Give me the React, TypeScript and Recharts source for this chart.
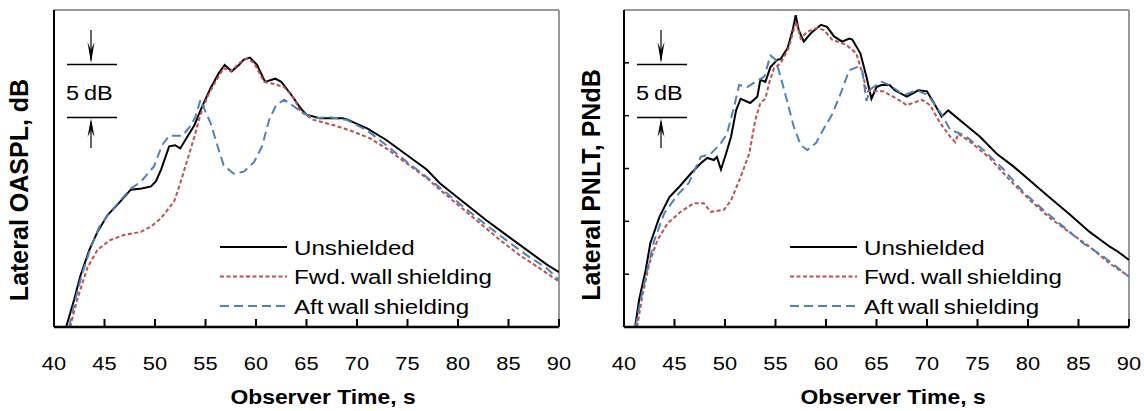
import { LineChart, Line, XAxis, YAxis, ReferenceLine, Customized } from 'recharts';

const FONT = '"Liberation Sans", Arial, sans-serif';

// observer time ticks, s
const timeTicks = [40, 45, 50, 55, 60, 65, 70, 75, 80, 85, 90];
// relative level ticks (5 dB apart, no labels in the original)
const levelTicks = [0, 5, 10, 15, 20, 25, 30];

const seriesNames = ['Unshielded', 'Fwd. wall shielding', 'Aft wall shielding'];

// Lateral OASPL, dB (relative to the bottom of the plot) vs observer time, s
const oasplUnshielded: [number, number][] = [
  [41.2, 0], [42.0, 2.6], [42.6, 4.8], [43.5, 7.3], [44.3, 9.0], [45.3, 10.6], [46.4, 11.7],
  [47.6, 13.0], [48.7, 13.1], [49.6, 13.3], [50.1, 13.8], [50.6, 14.9], [51.4, 17.1], [52.0, 17.2],
  [52.5, 16.9], [53.2, 18.0], [53.9, 19.1], [54.5, 20.5], [55.5, 22.6], [56.3, 24.0], [56.9, 24.8],
  [57.6, 24.2], [58.3, 24.8], [58.8, 25.3], [59.4, 25.5], [60.1, 24.8], [60.9, 23.2], [61.9, 23.5],
  [62.5, 23.2], [63.4, 22.1], [64.5, 20.6], [65.0, 20.1], [66.3, 19.75], [68.6, 19.75], [69.0, 19.65],
  [71.0, 18.8], [72.9, 17.7], [74.9, 16.3], [76.9, 14.9], [78.2, 13.6], [80.9, 11.55], [82.8, 10.1],
  [84.8, 8.7], [86.8, 7.3], [88.8, 5.9], [90, 5.2],
];

const oasplFwdWall: [number, number][] = [
  [41.6, 0], [42.3, 2.6], [43.3, 5.6], [44.3, 7.3], [45.5, 8.2], [46.9, 8.7], [48.6, 9.0],
  [49.6, 9.5], [50.6, 10.3], [51.9, 11.9], [52.5, 13.6], [53.2, 15.8], [53.9, 18.0], [54.5, 20.1],
  [55.2, 21.8], [55.8, 22.9], [56.8, 24.5], [57.5, 24.2], [58.5, 25.1], [59.1, 25.4], [59.8, 25.0],
  [60.8, 23.2], [61.8, 23.0], [62.8, 22.7], [63.8, 21.6], [64.4, 20.4], [65.7, 19.6], [67.7, 19.1],
  [69.6, 18.5], [71.3, 17.85], [72.9, 16.9], [74.9, 15.5], [76.9, 14.1], [78.2, 13.0], [80.2, 11.4],
  [82.2, 9.8], [84.2, 8.2], [86.1, 6.8], [88.1, 5.55], [90, 4.3],
];

const oasplAftWall: [number, number][] = [
  [41.5, 0], [42.0, 2.2], [42.8, 5.1], [43.6, 7.4], [44.5, 9.5], [45.5, 10.8], [46.6, 12.0],
  [47.6, 13.1], [48.6, 13.75], [49.9, 15.2], [50.7, 17.2], [51.4, 18.1], [52.7, 18.1], [53.5, 19.0],
  [54.0, 19.9], [54.5, 21.5], [54.85, 20.7], [55.5, 19.3], [56.2, 17.1], [56.8, 15.3], [57.8, 14.5],
  [58.8, 14.7], [59.8, 15.6], [60.6, 17.1], [61.3, 19.6], [62.0, 21.0], [62.8, 21.5], [63.8, 20.85],
  [64.4, 20.4], [65.7, 19.75], [67.3, 19.85], [69.0, 19.6], [71.0, 18.6], [72.9, 17.2], [74.9, 15.65],
  [76.9, 14.2], [78.9, 12.65], [80.9, 11.1], [82.8, 9.65], [84.8, 8.2], [86.8, 6.8], [88.8, 5.55],
  [90, 4.45],
];

// Lateral PNLT, PNdB (relative) vs observer time, s
const pnltUnshielded: [number, number][] = [
  [41.1, 0], [41.5, 2.6], [42.15, 5.4], [42.6, 7.9], [43.5, 10.4], [44.5, 12.3], [45.5, 13.3],
  [46.6, 14.5], [47.6, 15.5], [48.25, 16.0], [48.9, 15.8], [49.2, 16.1], [49.6, 14.9], [50.1, 16.4],
  [50.6, 18.0], [51.1, 20.5], [51.55, 21.6], [52.5, 21.2], [53.2, 21.8], [53.5, 23.4], [54.0, 23.2],
  [54.5, 24.6], [55.2, 25.3], [55.5, 25.35], [56.2, 26.4], [56.7, 28.1], [57.0, 29.5], [57.3, 28.1],
  [57.8, 27.0], [58.5, 27.8], [59.5, 28.6], [60.1, 28.4], [60.8, 27.5], [61.6, 27.0], [62.3, 27.3],
  [62.6, 27.2], [63.4, 25.9], [64.0, 23.7], [64.5, 21.6], [65.0, 22.7], [65.5, 22.9], [66.3, 22.9],
  [66.8, 22.4], [68.0, 21.8], [69.15, 22.4], [70.0, 22.3], [70.8, 21.0], [71.45, 19.9], [72.1, 20.5],
  [73.6, 19.3], [75.25, 18.0], [76.9, 16.4], [78.55, 15.2], [79.9, 14.1], [81.85, 12.5], [84.2, 10.6],
  [86.1, 9.0], [88.1, 7.6], [88.95, 7.1], [90, 6.35],
];

const pnltFwdWall: [number, number][] = [
  [41.3, 0], [41.8, 2.9], [42.5, 6.0], [43.3, 8.2], [44.3, 9.8], [45.6, 10.9], [46.9, 11.7],
  [47.9, 11.7], [48.6, 10.9], [49.9, 11.1], [50.6, 12.0], [51.55, 14.2], [52.4, 16.4], [53.0, 19.6],
  [53.5, 21.2], [54.0, 21.6], [54.4, 23.2], [54.85, 24.5], [55.5, 24.95], [56.3, 26.4], [56.8, 28.1],
  [57.05, 28.9], [57.5, 27.3], [58.15, 27.95], [59.1, 28.3], [59.8, 28.1], [60.6, 27.2], [62.0, 26.7],
  [63.0, 25.9], [63.7, 23.7], [64.0, 22.3], [65.7, 22.3], [67.0, 21.6], [68.0, 21.0], [69.5, 21.5],
  [70.3, 21.0], [71.3, 19.3], [72.3, 18.0], [72.8, 17.5], [73.1, 18.3], [74.3, 17.5], [76.2, 16.0],
  [78.2, 13.9], [80.2, 12.0], [82.2, 10.3], [84.2, 8.9], [86.1, 7.6], [88.1, 6.0], [90, 4.8],
];

const pnltAftWall: [number, number][] = [
  [41.15, 0], [41.65, 2.6], [42.3, 5.4], [43.0, 8.2], [44.0, 10.8], [45.3, 12.5], [46.4, 13.6],
  [47.6, 16.1], [48.6, 16.4], [49.6, 17.4], [50.2, 18.3], [50.9, 20.85], [51.4, 22.9], [52.2, 22.7],
  [53.0, 23.2], [53.9, 23.7], [54.5, 25.7], [55.0, 25.3], [55.5, 23.7], [56.2, 21.2], [56.8, 19.0],
  [57.5, 17.2], [58.15, 16.75], [59.0, 17.4], [59.8, 18.8], [60.6, 20.1], [61.45, 22.1], [62.3, 24.3],
  [63.1, 24.6], [63.6, 24.2], [64.0, 21.4], [64.4, 22.5], [65.5, 23.2], [66.3, 22.9], [67.7, 21.95],
  [69.0, 22.4], [70.1, 21.95], [71.5, 20.05], [72.3, 18.65], [73.6, 18.2], [75.6, 16.75], [77.6, 14.9],
  [79.5, 12.8], [81.5, 11.1], [83.5, 9.5], [85.5, 7.9], [87.5, 6.65], [90, 4.75],
];

const LINE_STYLES = [
  { stroke: '#000000', dash: undefined, width: 2 },
  { stroke: '#C0504D', dash: '4 2.5', width: 2 },
  { stroke: '#4F81BD', dash: '9 5', width: 2 },
];

const toPoints = (pairs: [number, number][]) => pairs.map(([t, v]) => ({ t, v }));

function XTick(props: any) {
  const { x, y, payload } = props;
  return (
    <g>
      <line x1={x} x2={x} y1={y} y2={y - 8} stroke="#000" strokeWidth={2} />
      <text
        transform={`translate(${x},${y + 43}) scale(1.15,1)`}
        textAnchor="middle"
        fontSize={19}
        fontFamily={FONT}
        fill="#000"
      >
        {payload.value}
      </text>
    </g>
  );
}

function YTickInner(props: any) {
  const { x, y, payload } = props;
  if (payload.value === 0 || payload.value === 30) return <g />;
  return <line x1={x} x2={x + 5} y1={y} y2={y} stroke="#000" strokeWidth={1.5} />;
}

function Decor({ yTitle, yTitleX, yTitleCy }: { yTitle: string; yTitleX: number; yTitleCy: number }) {
  return (
    <g fontFamily={FONT} fill="#000">
      {/* 5 dB scale bar */}
      <line x1={67} x2={117} y1={64.5} y2={64.5} stroke="#000" strokeWidth={1.5} />
      <line x1={67} x2={117} y1={117.5} y2={117.5} stroke="#000" strokeWidth={1.5} />
      <line x1={91} x2={91} y1={30} y2={60} stroke="#000" strokeWidth={1.2} />
      <path d="M87.5,42 L91,63 L94.5,42 L91,50 Z" fill="#000" />
      <line x1={91} x2={91} y1={122} y2={148} stroke="#000" strokeWidth={1.2} />
      <path d="M87.5,137 L91,118.5 L94.5,137 L91,130 Z" fill="#000" />
      <text transform="translate(66,100) scale(1.12,1)" fontSize={21} wordSpacing={-1.5}>5 dB</text>

      {/* legend */}
      {seriesNames.map((name, i) => {
        const y = 247 + i * 29.5;
        const s = LINE_STYLES[i];
        return (
          <g key={name}>
            <line x1={220} x2={287} y1={y} y2={y} stroke={s.stroke} strokeWidth={s.width} strokeDasharray={s.dash} />
            <text transform={`translate(294,${y + 7.5}) scale(1.15,1)`} fontSize={21} wordSpacing={-2}>{name}</text>
          </g>
        );
      })}

      {/* axis titles */}
      <text
        transform="translate(323,404) scale(1.09,1)"
        textAnchor="middle"
        fontSize={21}
        fontWeight="bold"
      >
        Observer Time, s
      </text>
      <text
        transform={`translate(${yTitleX},${yTitleCy}) rotate(-90)`}
        textAnchor="middle"
        fontSize={25}
        fontWeight="bold"
      >
        {yTitle}
      </text>
    </g>
  );
}

function Panel({ series, yTitle, yTitleX, yTitleCy, innerYTicks }: {
  series: [number, number][][];
  yTitle: string;
  yTitleX: number;
  yTitleCy: number;
  innerYTicks: boolean;
}) {
  return (
    <LineChart width={572} height={411} margin={{ top: 10, right: 13, left: 0, bottom: 0 }}>
      <XAxis
        type="number"
        dataKey="t"
        domain={[40, 90]}
        ticks={timeTicks}
        height={84}
        tickSize={0}
        tickMargin={0}
        tickLine={false}
        tick={<XTick />}
        axisLine={{ stroke: '#000', strokeWidth: 2.5 }}
        allowDataOverflow
      />
      <YAxis
        type="number"
        dataKey="v"
        domain={[0, 30]}
        ticks={levelTicks}
        width={54}
        tickSize={0}
        tickMargin={0}
        tickLine={false}
        tick={innerYTicks ? <YTickInner /> : false}
        axisLine={{ stroke: '#000', strokeWidth: 2 }}
        allowDataOverflow
      />
      <ReferenceLine y={30} stroke="#999" strokeWidth={2} />
      <ReferenceLine x={90} stroke="#999" strokeWidth={2} />
      {series.map((pairs, i) => (
        <Line
          key={seriesNames[i]}
          name={seriesNames[i]}
          data={toPoints(pairs)}
          dataKey="v"
          type="linear"
          stroke={LINE_STYLES[i].stroke}
          strokeWidth={LINE_STYLES[i].width}
          strokeDasharray={LINE_STYLES[i].dash}
          dot={false}
          activeDot={false}
          isAnimationActive={false}
        />
      ))}
      <Customized component={<Decor yTitle={yTitle} yTitleX={yTitleX} yTitleCy={yTitleCy} />} />
    </LineChart>
  );
}

export default function App() {
  return (
    <div style={{ position: 'absolute', left: 0, top: 0, width: 1144, height: 411, background: '#fff' }}>
      <div style={{ position: 'absolute', left: 0, top: 0 }}>
        <Panel
          series={[oasplUnshielded, oasplFwdWall, oasplAftWall]}
          yTitle="Lateral OASPL,  dB"
          yTitleX={28}
          yTitleCy={190}
          innerYTicks={false}
        />
      </div>
      <div style={{ position: 'absolute', left: 570, top: 0 }}>
        <Panel
          series={[pnltUnshielded, pnltFwdWall, pnltAftWall]}
          yTitle="Lateral PNLT, PNdB"
          yTitleX={30}
          yTitleCy={185}
          innerYTicks
        />
      </div>
    </div>
  );
}
